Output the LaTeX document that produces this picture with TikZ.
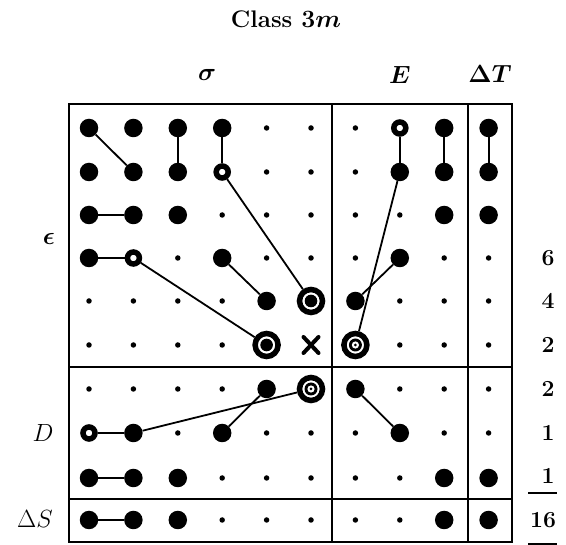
\documentclass[tikz,border=0pt]{standalone}
\begin{document}
\begin{tikzpicture}[x=1pt,y=-1pt,
  dotB/.style={circle,fill=black,inner sep=0pt,minimum size=18.5pt},
  dotS/.style={circle,fill=black,inner sep=0pt,minimum size=5.5pt},
  dotO/.style={circle,draw=black,fill=white,line width=5.5pt,inner sep=0pt,minimum size=12pt},
  bullA/.style={circle,draw=black,fill=white,line width=5.5pt,inner sep=0pt,minimum size=23pt,
    path picture={\fill[black] (path picture bounding box.center) circle (6.3pt);}},
  bullB/.style={circle,draw=black,fill=white,line width=5.5pt,inner sep=0pt,minimum size=23pt,
    path picture={\fill[black] (path picture bounding box.center) circle (6.5pt);
      \fill[white] (path picture bounding box.center) circle (3.6pt);
      \fill[black] (path picture bounding box.center) circle (1.5pt);}},
  crossX/.style={rectangle,inner sep=0pt,minimum size=26pt,
    path picture={\draw[line width=4pt,line cap=round]
      ([shift={(-7.5,-8)}]path picture bounding box.center) -- ([shift={(7.5,8)}]path picture bounding box.center)
      ([shift={(7.5,-8)}]path picture bounding box.center) -- ([shift={(-7.5,8)}]path picture bounding box.center);}},
  conn/.style={line width=1.8pt},
  frame/.style={line width=2pt},
  lab/.style={inner sep=0pt,font=\fontsize{24}{28}\selectfont\bfseries\boldmath},
  labE/.style={inner sep=0pt,font=\fontsize{28}{32}\selectfont\bfseries\boldmath},
  labR/.style={inner sep=0pt,font=\fontsize{27}{31}\selectfont},
  num/.style={inner sep=0pt,font=\fontsize{23}{27}\selectfont\bfseries},
]
\path[use as bounding box,fill=white] (0,0) rectangle (566,545);

% frame
\draw[frame] (69,104) rectangle (512,542);
\draw[frame] (69,367) -- (512,367);
\draw[frame] (69,499) -- (512,499);
\draw[frame] (332,104) -- (332,542);
\draw[frame] (468,104) -- (468,542);

% dots
\foreach \r/\y/\lst in {
  1/128/{dotB,dotB,dotB,dotB,dotS,dotS,dotS,dotO,dotB,dotB},
  2/172/{dotB,dotB,dotB,dotO,dotS,dotS,dotS,dotB,dotB,dotB},
  3/215/{dotB,dotB,dotB,dotS,dotS,dotS,dotS,dotS,dotB,dotB},
  4/258/{dotB,dotO,dotS,dotB,dotS,dotS,dotS,dotB,dotS,dotS},
  5/301/{dotS,dotS,dotS,dotS,dotB,bullA,dotB,dotS,dotS,dotS},
  6/345/{dotS,dotS,dotS,dotS,bullA,crossX,bullB,dotS,dotS,dotS},
  7/389/{dotS,dotS,dotS,dotS,dotB,bullB,dotB,dotS,dotS,dotS},
  8/433/{dotO,dotB,dotS,dotB,dotS,dotS,dotS,dotB,dotS,dotS},
  9/478/{dotB,dotB,dotB,dotS,dotS,dotS,dotS,dotS,dotB,dotB},
  10/520/{dotB,dotB,dotB,dotS,dotS,dotS,dotS,dotS,dotB,dotB}}
{
  \foreach \t [count=\c] in \lst {
    \node[\t] (n\r-\c) at ({89+44.4*(\c-1)},\y) {};
  }
}

% connectors
\draw[conn] (n1-1) -- (n2-2);
\draw[conn] (n1-3) -- (n2-3);
\draw[conn] (n1-4) -- (n2-4);
\draw[conn] (n2-4) -- (n5-6);
\draw[conn] (n3-1) -- (n3-2);
\draw[conn] (n4-1) -- (n4-2);
\draw[conn] (n4-2) -- (n6-5);
\draw[conn] (n4-4) -- (n5-5);
\draw[conn] (n1-8) -- (n2-8);
\draw[conn] (n1-9) -- (n2-9);
\draw[conn] (n1-10) -- (n2-10);
\draw[conn] (n2-8) -- (n6-7);
\draw[conn] (n4-8) -- (n5-7);
\draw[conn] (n7-5) -- (n8-4);
\draw[conn] (n7-6) -- (n8-2);
\draw[conn] (n8-1) -- (n8-2);
\draw[conn] (n7-7) -- (n8-8);
\draw[conn] (n9-1) -- (n9-2);
\draw[conn] (n10-1) -- (n10-2);

% labels
\node[lab] (title) at (286,19) {Class $3m$};
\node[lab] (sig) at (207,75) {$\sigma$};
\node[lab] (lE) at (400,75) {$E$};
\node[lab] (ldT) at (490,74) {$\Delta T$};
\node[labE] (eps) at (49,239) {$\epsilon$};
\node[labR] (lD) at (43,433) {$D$};
\node[labR] (ldS) at (35,519) {$\Delta S$};

% sums
\node[num] (s4) at (548,258) {6};
\node[num] (s5) at (548,301) {4};
\node[num] (s6) at (548,345) {2};
\node[num] (s7) at (548,389) {2};
\node[num] (s8) at (548,433) {1};
\node[num] (s9) at (548,476) {1};
\node[num] (tot) at (543,520) {16};
\draw[frame] (528,493) -- (557,493);
\draw[frame] (528,544) -- (557,544);
\end{tikzpicture}
\end{document}
